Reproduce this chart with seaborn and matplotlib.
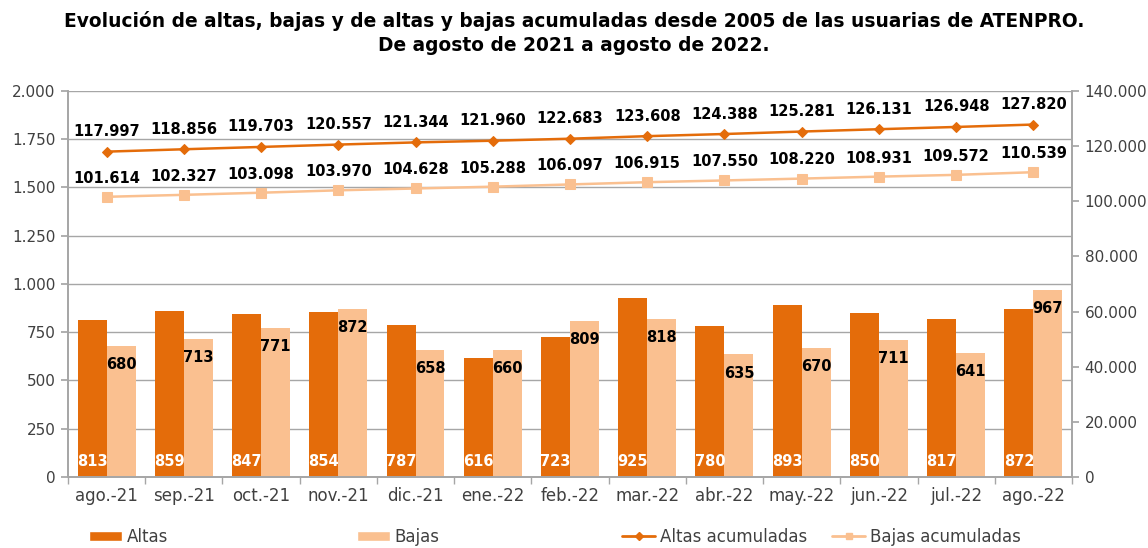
import matplotlib
matplotlib.use("Agg")
import matplotlib.pyplot as plt
import matplotlib.ticker as mticker
from matplotlib.lines import Line2D
from matplotlib.patches import Patch
import numpy as np
import pandas as pd
import seaborn as sns

# Data
meses = ["ago.-21", "sep.-21", "oct.-21", "nov.-21", "dic.-21", "ene.-22", "feb.-22",
         "mar.-22", "abr.-22", "may.-22", "jun.-22", "jul.-22", "ago.-22"]
altas = [813, 859, 847, 854, 787, 616, 723, 925, 780, 893, 850, 817, 872]
bajas = [680, 713, 771, 872, 658, 660, 809, 818, 635, 670, 711, 641, 967]
altas_acum = [117997, 118856, 119703, 120557, 121344, 121960, 122683,
              123608, 124388, 125281, 126131, 126948, 127820]
bajas_acum = [101614, 102327, 103098, 103970, 104628, 105288, 106097,
              106915, 107550, 108220, 108931, 109572, 110539]

c_altas = "#E46C0A"
c_bajas = "#FAC090"
grid_c = "#A6A6A6"
txt_c = "#404040"


def miles(v, pos=None):
    return f"{int(v):,}".replace(",", ".")


sns.set_theme(style="white")
plt.rcParams["font.family"] = ["DejaVu Sans"]

df = pd.DataFrame({
    "mes": meses * 2,
    "valor": altas + bajas,
    "serie": ["Altas"] * len(meses) + ["Bajas"] * len(meses),
})

fig = plt.figure(figsize=(11.48, 5.48), dpi=100)
ax = fig.add_axes([0.0592, 0.1296, 0.8746, 0.7044])

sns.barplot(data=df, x="mes", y="valor", hue="serie", order=meses,
            palette={"Altas": c_altas, "Bajas": c_bajas}, width=0.75,
            saturation=1, legend=False, linewidth=0, ax=ax)

ax.set_ylim(0, 2000)
ax.set_xlim(-0.5, len(meses) - 0.5)
ax.yaxis.set_major_locator(mticker.MultipleLocator(250))
ax.yaxis.set_major_formatter(mticker.FuncFormatter(miles))
ax.yaxis.grid(True, color=grid_c, linewidth=1)
ax.set_axisbelow(True)
ax.set_xlabel("")
ax.set_ylabel("")

# bar labels
for i, v in enumerate(altas):
    ax.annotate(str(v), (i - 0.1875, 0), xytext=(0, 6), textcoords="offset points",
                ha="center", va="bottom", color="white", fontsize=10.5, fontweight="bold")
for i, v in enumerate(bajas):
    ax.annotate(str(v), (i + 0.1875, v), xytext=(0, -8), textcoords="offset points",
                ha="center", va="top", color="black", fontsize=10.5, fontweight="bold")

# cumulative lines on secondary axis
ax2 = ax.twinx()
pos = np.arange(len(meses))
sns.lineplot(x=pos, y=altas_acum, color=c_altas, marker="D", markersize=5,
             markeredgecolor=c_altas, linewidth=1.8, ax=ax2)
sns.lineplot(x=pos, y=bajas_acum, color=c_bajas, marker="s", markersize=7,
             markeredgecolor=c_bajas, linewidth=1.8, ax=ax2)
ax2.set_ylim(0, 140000)
ax2.set_xlim(-0.5, len(meses) - 0.5)
ax2.yaxis.set_major_locator(mticker.MultipleLocator(20000))
ax2.yaxis.set_major_formatter(mticker.FuncFormatter(miles))
ax2.grid(False)

for i, v in enumerate(altas_acum):
    ax2.annotate(miles(v), (i, v), xytext=(0, 9), textcoords="offset points",
                 ha="center", va="bottom", color="black", fontsize=10.5, fontweight="bold")
for i, v in enumerate(bajas_acum):
    ax2.annotate(miles(v), (i, v), xytext=(0, 8), textcoords="offset points",
                 ha="center", va="bottom", color="black", fontsize=10.5, fontweight="bold")

# spines and ticks
for a in (ax, ax2):
    for s in a.spines.values():
        s.set_color(grid_c)
    a.spines["top"].set_visible(False)
ax.tick_params(axis="y", length=5, color=grid_c, labelsize=11, labelcolor=txt_c, pad=4)
ax2.tick_params(axis="y", length=5, color=grid_c, labelsize=11, labelcolor=txt_c, pad=4)
ax.set_xticks(pos)
ax.set_xticklabels(meses)
ax.tick_params(axis="x", which="major", length=0, labelsize=12, labelcolor=txt_c, pad=7)
ax.set_xticks(np.arange(-0.5, len(meses), 1), minor=True)
ax.tick_params(axis="x", which="minor", length=5, color=grid_c, bottom=True)

# legend: one entry per slot, spread like the reference
entries = [
    (Patch(facecolor=c_altas, label="Altas"), 89),
    (Patch(facecolor=c_bajas, label="Bajas"), 357),
    (Line2D([], [], color=c_altas, marker="D", markersize=4, linewidth=2,
            label="Altas acumuladas"), 622),
    (Line2D([], [], color=c_bajas, marker="s", markersize=5, linewidth=2,
            label="Bajas acumuladas"), 832),
]
for h, xpx in entries:
    fig.legend(handles=[h], loc="center left", bbox_to_anchor=(xpx / 1148, 0.02),
               frameon=False, fontsize=12, handlelength=2.0, handleheight=0.6,
               handletextpad=0.25, borderpad=0, borderaxespad=0, labelcolor=txt_c)

fig.text(0.5, 0.94, "Evolución de altas, bajas y de altas y bajas acumuladas desde 2005 de las usuarias de ATENPRO.\nDe agosto de 2021 a agosto de 2022.",
         ha="center", va="center", fontsize=13.4, fontweight="bold", color="black",
         linespacing=1.35)

fig.savefig("out.png", dpi=100)
plt.close()
